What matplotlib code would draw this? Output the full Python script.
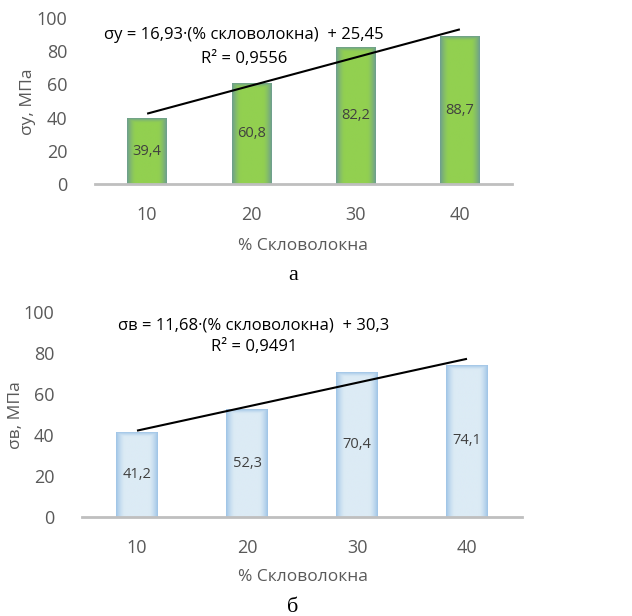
import numpy as np
import matplotlib
matplotlib.use("Agg")
import matplotlib.pyplot as plt
from matplotlib.colors import to_rgb

categories = ["10", "20", "30", "40"]
sigma_y = [39.4, 60.8, 82.2, 88.7]
sigma_b = [41.2, 52.3, 70.4, 74.1]
labels_y = ["39,4", "60,8", "82,2", "88,7"]
labels_b = ["41,2", "52,3", "70,4", "74,1"]
trend_y = (16.93, 25.45)
trend_b = (11.68, 30.3)
eq_y = "σy = 16,93·(% скловолокна)  + 25,45"
r2_y = "R² = 0,9556"
eq_b = "σв = 11,68·(% скловолокна)  + 30,3"
r2_b = "R² = 0,9491"
yticks = [0, 20, 40, 60, 80, 100]

W, H = 632, 616
FONT = ["Open Sans", "DejaVu Sans"]
plt.rcParams["font.family"] = FONT

fig = plt.figure(figsize=(W / 100, H / 100), dpi=100)


def fpos(x, y):
    return x / W, 1 - y / H


def gradient_bars(ax, xs, vals, width, center, edge, gw_x, gw_y):
    c = np.array(to_rgb(center))
    e = np.array(to_rgb(edge))
    for x, v in zip(xs, vals):
        p0 = ax.transData.transform((x - width / 2, 0))
        p1 = ax.transData.transform((x + width / 2, v))
        wpx = abs(p1[0] - p0[0])
        hpx = abs(p1[1] - p0[1])
        nx, ny = max(int(wpx * 2), 2), max(int(hpx * 2), 2)
        u = (np.arange(nx) + 0.5) / nx * wpx
        w = (np.arange(ny) + 0.5) / ny * hpx
        dx = np.minimum(u, wpx - u)
        dy = w  # distance from top (row 0 = top)
        fx = np.clip(1 - dx / gw_x, 0, 1) ** 1.5
        fy = np.clip(1 - dy / gw_y, 0, 1) ** 1.5
        t = np.maximum(fx[None, :], fy[:, None])
        img = c[None, None, :] * (1 - t[..., None]) + e[None, None, :] * t[..., None]
        ax.imshow(img, extent=(x - width / 2, x + width / 2, 0, v), aspect="auto",
                  interpolation="bilinear", zorder=2, origin="upper")


def make_panel(rect, vals, labels, trend, eq, r2, ylabel, center, edge,
               eq_pos, r2_pos, ylab_pos, xlab_pos, cap_pos, cap):
    ax = fig.add_axes(rect)
    xs = np.arange(len(categories))
    ax.set_xlim(-0.5, len(categories) - 0.5)
    ax.set_ylim(0, 100)
    width = 0.38
    gradient_bars(ax, xs, vals, width, center, edge, 9, 5)
    ax.set_xlim(-0.5, len(categories) - 0.5)
    ax.set_ylim(0, 100)
    for x, v, lab in zip(xs, vals, labels):
        ax.text(x, v / 2, lab, ha="center", va="center", fontsize=10.5,
                color="#404040", zorder=4)
    tx = np.array([xs[0], xs[-1]])
    ty = trend[0] * (tx + 1) + trend[1]
    ax.plot(tx, ty, color="black", lw=1.5, zorder=5, solid_capstyle="butt")
    ax.set_xticks(xs)
    ax.set_xticklabels(categories)
    ax.set_yticks(yticks)
    ax.tick_params(length=0, labelsize=13, colors="#595959", pad=16)
    ax.tick_params(axis="y", pad=20)
    for s in ["top", "right", "left"]:
        ax.spines[s].set_visible(False)
    ax.spines["bottom"].set_color("#BFBFBF")
    ax.spines["bottom"].set_linewidth(2)
    ax.spines["bottom"].set_zorder(6)
    ax.set_facecolor("none")
    fig.text(*fpos(*eq_pos), eq, ha="center", va="center", fontsize=12, color="black")
    fig.text(*fpos(*r2_pos), r2, ha="center", va="center", fontsize=12, color="black")
    fig.text(*fpos(*ylab_pos), ylabel, ha="center", va="center", rotation=90,
             fontsize=12.5, color="#595959")
    fig.text(*fpos(*xlab_pos), "% Скловолокна", ha="center", va="center",
             fontsize=12.5, color="#595959")
    fig.text(*fpos(*cap_pos), cap, ha="center", va="center", fontsize=16,
             color="black", family=["Liberation Serif", "DejaVu Serif"])
    return ax


make_panel([95 / W, 1 - 184 / H, 417 / W, 166 / H], sigma_y, labels_y, trend_y,
           eq_y, r2_y, "σy, МПа", "#92D050", "#6C9C92",
           (244, 35), (244, 59), (28, 102), (303, 246), (293, 276), "а")
make_panel([82 / W, 1 - 516.7 / H, 440 / W, 205 / H], sigma_b, labels_b, trend_b,
           eq_b, r2_b, "σв, МПа", "#DCEBF5", "#9DC3E6",
           (254, 325), (254, 347), (16, 415), (303, 577), (293, 607), "б")

fig.savefig("out.png", dpi=100)
